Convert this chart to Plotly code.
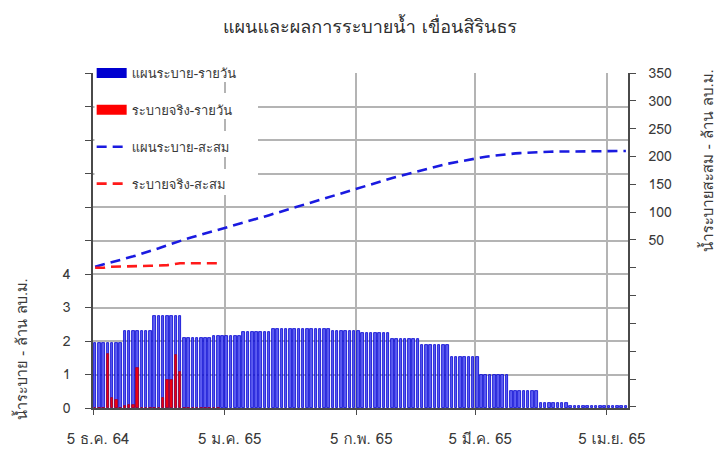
import numpy as np
import pandas as pd
import plotly.graph_objects as go

# ---- data ----
start_date = "2021-12-05"
n_days = 126
# planned daily release, constant within each week (million m3/day)
plan_weekly = [1.95, 2.29, 2.75, 2.10, 2.15, 2.27, 2.35, 2.35, 2.31,
               2.24, 2.07, 1.87, 1.53, 0.98, 0.52, 0.15, 0.05, 0.05]
# actual daily release (million m3/day), first 30 days
actual_daily = [0, 0, 0, 1.62, 0.29, 0.23, 0, 0.05, 0.09, 0.09,
                1.19, 0, 0, 0, 0, 0, 0.30, 0.84, 0.85, 1.59,
                1.07, 0, 0, 0, 0, 0, 0, 0, 0, 0]

tick_dates = ["2021-12-05", "2022-01-05", "2022-02-05", "2022-03-05", "2022-04-05"]
tick_labels = ["5 ธ.ค. 64", "5 ม.ค. 65", "5 ก.พ. 65", "5 มี.ค. 65", "5 เม.ย. 65"]

names = ["แผนระบาย-รายวัน", "ระบายจริง-รายวัน", "แผนระบาย-สะสม", "ระบายจริง-สะสม"]
title_text = "แผนและผลการระบายน้ำ เขื่อนสิรินธร"
left_title = "น้ำระบาย - ล้าน ลบ.ม."
right_title = "น้ำระบายสะสม - ล้าน ลบ.ม."

# ---- derived ----
days = pd.date_range(start_date, periods=n_days) + pd.Timedelta(hours=12)
plan_daily = np.repeat(plan_weekly, 7)[:n_days]
plan_cum = np.cumsum(plan_daily)
actual_days = days[:len(actual_daily)]
actual_cum = np.cumsum(actual_daily)

FONT = "Tahoma, Loma, Garuda, 'Noto Sans Thai', 'Noto Sans', 'DejaVu Sans', sans-serif"
TXT = "#3a3a3a"
GRID = "#b4b4b4"
AX = "#4a4a4a"
day_ms = 86400000

# page body has an 8px margin: figure is placed at (8, 8) in the window
W, H = 714, 446
PL, PR, PT, PB = 85, 94, 65, 46      # plot area: x 85..620, y 65..400 (figure px)
pw, ph = W - PL - PR, H - PT - PB
X0 = pd.Timestamp("2021-12-05")
X1 = pd.Timestamp("2022-04-10")
Y_MAX = 10

BLUE_BAR = "#5c5cf0"
RED_BAR = "#ee0010"

fig = go.Figure()
fig.add_trace(go.Bar(x=days, y=plan_daily, name=names[0], width=0.6 * day_ms,
                     marker=dict(color=BLUE_BAR, line=dict(color="#0000d0", width=0.8)),
                     legendgroup="a", showlegend=False))
fig.add_trace(go.Bar(x=actual_days, y=actual_daily, name=names[1], width=0.6 * day_ms,
                     marker=dict(color=RED_BAR, line=dict(color="#a00030", width=0.8)),
                     legendgroup="b", showlegend=False))
# legend swatches for the bar series (wide rectangles as in the reference)
fig.add_trace(go.Scatter(x=[None], y=[None], name=names[0], mode="lines",
                         line=dict(color="#0000d0", width=10), legendgroup="a"))
fig.add_trace(go.Scatter(x=[None], y=[None], name=names[1], mode="lines",
                         line=dict(color="#ff0000", width=10), legendgroup="b"))
fig.add_trace(go.Scatter(x=days, y=plan_cum, name=names[2], mode="lines", yaxis="y2",
                         line=dict(color="#1a1ae0", width=2.6, dash="10px,6px"),
                         legendgroup="c"))
fig.add_trace(go.Scatter(x=actual_days, y=actual_cum, name=names[3], mode="lines", yaxis="y2",
                         line=dict(color="#ff1a1a", width=2.6, dash="10px,6px"),
                         legendgroup="d"))

# white boxes behind each legend row (hide the horizontal gridlines, as in the reference)
legend_row_px = [73, 110, 148, 186]   # reference window pixels
shapes = []
for yc in legend_row_px:
    shapes.append(dict(type="rect", xref="paper", yref="paper", layer="above",
                       x0=(94.5 - 93) / pw, x1=(258 - 93) / pw,
                       y0=(408 - yc - 9) / ph, y1=(408 - yc + 17) / ph,
                       fillcolor="white", line=dict(width=0)))

fig.update_layout(
    width=W, height=H,
    margin=dict(l=PL, r=PR, t=PT, b=PB, autoexpand=False),
    paper_bgcolor="white", plot_bgcolor="white",
    font=dict(family=FONT, color=TXT, size=13),
    barmode="overlay", bargap=0,
    title=dict(text=title_text, x=362 / W, xanchor="center", y=1 - 19 / H, yanchor="middle",
               xref="container", yref="container",
               font=dict(size=18, color="#2e2e2e", family=FONT)),
    xaxis=dict(type="date", range=[X0, X1], automargin=False,
               tickvals=tick_dates, ticktext=tick_labels,
               showgrid=True, gridcolor=GRID, gridwidth=1.5,
               showline=True, linecolor=AX, linewidth=1.5,
               ticks="outside", ticklen=5, tickcolor=AX, ticklabelshift=5,
               ticklabelstandoff=11,
               tickfont=dict(size=15, color=TXT), zeroline=False),
    yaxis=dict(range=[0, Y_MAX], tickvals=list(range(11)), automargin=False,
               ticktext=["0", "1", "2", "3", "4", "", "", "", "", "", ""],
               showgrid=True, gridcolor=GRID, gridwidth=1.5,
               showline=True, linecolor=AX, linewidth=1.5,
               ticks="outside", ticklen=6, tickcolor=AX, ticklabelstandoff=12,
               tickfont=dict(size=14, color=TXT), zeroline=False),
    yaxis2=dict(range=[-252, 350], overlaying="y", side="right", automargin=False,
                tickvals=list(range(-250, 351, 50)),
                ticktext=["" if v <= 0 else str(v) for v in range(-250, 351, 50)],
                showgrid=False, zeroline=False,
                showline=True, linecolor=AX, linewidth=1.5,
                ticks="outside", ticklen=6, tickcolor=AX, ticklabelstandoff=10,
                tickfont=dict(size=14, color=TXT)),
    legend=dict(x=-0.0025, y=1.045, xanchor="left", yanchor="top",
                bgcolor="rgba(255,255,255,0)", itemwidth=30, tracegroupgap=17,
                font=dict(size=13, color=TXT, family=FONT)),
    shapes=shapes,
    annotations=[
        dict(text=left_title, xref="paper", yref="paper", x=(21 - 93) / pw, y=(408 - 349) / ph,
             textangle=-90, showarrow=False, font=dict(size=14.5, color=TXT),
             xanchor="center", yanchor="middle"),
        dict(text=right_title, xref="paper", yref="paper", x=(708 - 93) / pw, y=(408 - 161) / ph,
             textangle=-90, showarrow=False, font=dict(size=15, color=TXT),
             xanchor="center", yanchor="middle"),
    ],
)

fig.write_html("out.html")
